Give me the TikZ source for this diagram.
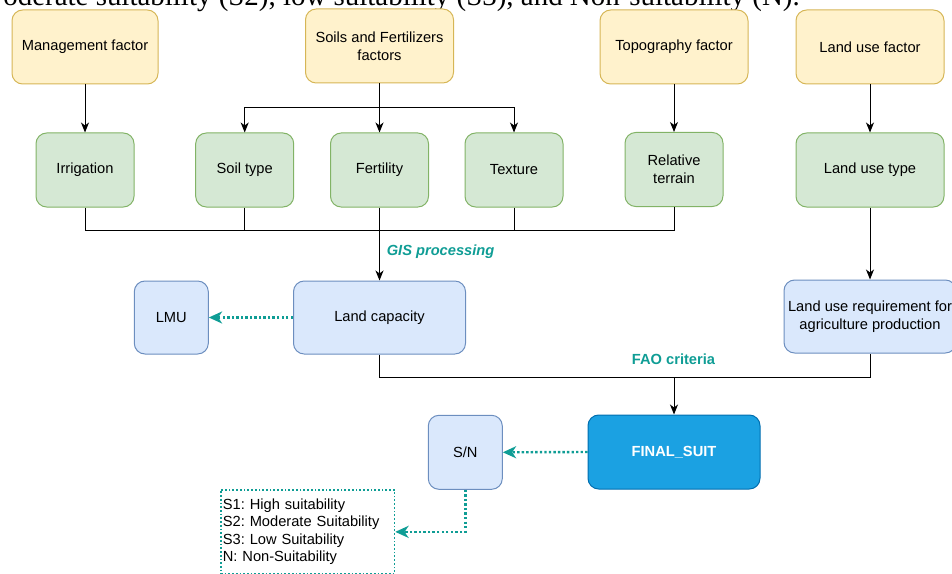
\documentclass[tikz,border=0pt]{standalone}
\usepackage{fontspec}
\setmainfont{Liberation Sans}
\newfontfamily\topserif{Liberation Serif}
\usetikzlibrary{arrows.meta}
\frenchspacing
\definecolor{yfill}{HTML}{FFF2CC}
\definecolor{ydraw}{HTML}{D6B656}
\definecolor{gfill}{HTML}{D5E8D4}
\definecolor{gdraw}{HTML}{82B366}
\definecolor{bfill}{HTML}{DAE8FC}
\definecolor{bdraw}{HTML}{6C8EBF}
\definecolor{ffill}{HTML}{1BA1E2}
\definecolor{fdraw}{HTML}{006EAF}
\definecolor{tealc}{HTML}{0F9D95}
\tikzset{
  base/.style={draw, rounded corners=8pt, line width=0.75pt, align=center,
    font=\fontsize{11}{13.7}\selectfont, inner sep=0pt},
  sz/.style 2 args={minimum width=#1*0.75pt, minimum height=#2*0.75pt},
  yel/.style={base, fill=yfill, draw=ydraw},
  grn/.style={base, fill=gfill, draw=gdraw},
  blu/.style={base, fill=bfill, draw=bdraw},
  fin/.style={base, fill=ffill, draw=fdraw, text=white, font=\fontsize{11}{13.7}\selectfont\bfseries},
  blk/.style={draw=black, line width=0.75pt},
  arr/.style={blk, -{Stealth[length=7.5pt,width=6pt,inset=2.2pt]}},
  tarr/.style={draw=tealc, line width=1.8pt, dash pattern=on 1.8pt off 1.6pt,
    -{Stealth[length=10pt,width=9pt,inset=3pt]}},
  lab/.style={text=tealc, font=\fontsize{11}{13}\selectfont\bfseries, inner sep=0pt},
}
\begin{document}
\begin{tikzpicture}[x=0.75pt, y=-0.75pt]
\useasboundingbox (0,0) rectangle (952,574);
\clip (0,0) rectangle (952,574);
% cut-off text at top
\node[anchor=base east, inner sep=0pt, font=\fontsize{21.7}{24}\topserif] (toptext) at (800,5.5)
  {oderate suitability (S2), low suitability (S3), and Non-suitability (N).};
% top row
\node[yel, sz={146}{74}] (mf) at (85,47) {Management factor};
\node[yel, sz={148}{74}] (sf) at (379.5,46) {Soils and Fertilizers\\factors};
\node[yel, sz={148}{74}] (tf) at (674,47) {Topography factor};
\node[yel, sz={148}{74}] (lf) at (870,47) {Land use factor};
% green row
\node[grn, sz={98}{74}] (ir) at (85,170) {Irrigation};
\node[grn, sz={98}{74}] (st) at (244.7,170) {Soil type};
\node[grn, sz={98}{74}] (fe) at (379.5,170) {Fertility};
\node[grn, sz={98}{74}] (tx) at (514,170) {Texture};
\node[grn, sz={98}{74}] (rt) at (674,169.5) {Relative\\terrain};
\node[grn, sz={148}{74}] (lt) at (870,170) {Land use type};
% blue row
\node[blu, sz={172}{73}] (lc) at (379.5,317.5) {Land capacity};
\node[blu, sz={74}{73}] (lmu) at (171.3,317.5) {LMU};
\node[blu, sz={172}{73}] (lur) at (870,316.5) {Land use requirement for\\agriculture production};
\node[fin, sz={172}{74}] (fs) at (674,452) {FINAL\_SUIT};
\node[blu, sz={74}{74}] (sn) at (465.3,452.3) {S/N};
% legend
\node[draw=tealc, line width=1.3pt, dash pattern=on 1.3pt off 1.5pt, anchor=north west,
  inner xsep=1.5pt, inner ysep=0pt, text width=169.5*0.75pt, minimum height=84.4*0.75pt,
  align=left, font=\fontsize{11}{13}\selectfont] (leg) at (220,488.8)
  {S1: High suitability\\S2: Moderate Suitability\\S3: Low Suitability\\N: Non-Suitability};
% top connectors
\coordinate (sfj) at (379.5,108);
\draw[arr] (mf) -- (ir);
\draw[arr] (sf) -- (fe);
\draw[arr] (sfj) -| (st.north);
\draw[arr] (sfj) -| (tx.north);
\draw[arr] (tf) -- (rt);
\draw[arr] (lf) -- (lt);
% merge to land capacity
\coordinate (j1) at (379.5,230);
\draw[blk] (ir.south) |- (rt.south |- j1) -- (rt.south);
\draw[blk] (st.south) -- (st.south |- j1);
\draw[blk] (tx.south) -- (tx.south |- j1);
\draw[arr] (fe) -- (lc);
\node[lab, anchor=west, font=\fontsize{11}{13}\selectfont\bfseries\itshape] (gis) at (386.5,252) {GIS processing};
\draw[arr] (lt) -- (lur);
% FAO merge
\coordinate (j2) at (674,377.3);
\draw[blk] (lc.south) |- (lur.south |- j2) -- (lur.south);
\draw[arr] (fs.north |- j2) -- (fs.north);
\node[lab] (fao) at (673.5,359) {FAO criteria};
% teal dotted arrows
\draw[tarr] (lc.west) -- (lmu.east);
\draw[tarr] (fs.west) -- (sn.east);
\draw[tarr] (sn.south) |- (leg.east);
\end{tikzpicture}
\end{document}
